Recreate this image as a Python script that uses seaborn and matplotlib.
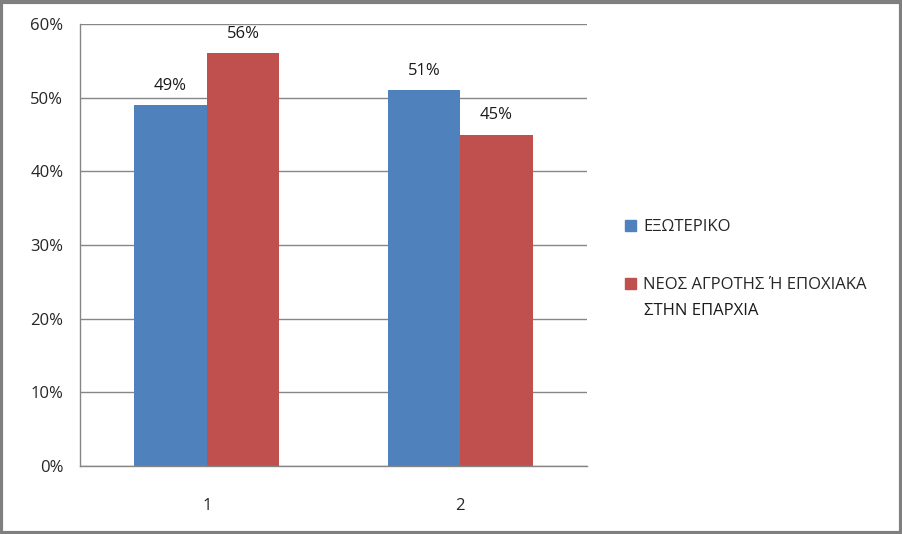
import pandas as pd
import seaborn as sns
import matplotlib.pyplot as plt
from matplotlib.patches import Rectangle
from matplotlib.ticker import FixedLocator, FuncFormatter

# data
categories = ["1", "2"]
series_names = ["ΕΞΩΤΕΡΙΚΟ", "ΝΕΟΣ ΑΓΡΟΤΗΣ Ή ΕΠΟΧΙΑΚΑ"]
second_line = "ΣΤΗΝ ΕΠΑΡΧΙΑ"  # wrapped rest of the 2nd legend label
exoteriko = [49, 51]
neos_agrotis = [56, 45]

df = pd.DataFrame({
    "cat": categories * 2,
    "series": [series_names[0]] * 2 + [series_names[1]] * 2,
    "value": exoteriko + neos_agrotis,
})

sns.set_style("white")
plt.rcParams["font.family"] = ["Open Sans", "DejaVu Sans"]

fig = plt.figure(figsize=(9.03, 5.34), dpi=100)
ax = fig.add_axes([0.0886, 0.1273, 0.5614, 0.8277])

sns.barplot(data=df, x="cat", y="value", hue="series",
            palette=["#4F81BD", "#C0504D"], width=0.572,
            saturation=1, linewidth=0, ax=ax, legend=False)

for cont in ax.containers:
    ax.bar_label(cont, fmt="%.0f%%", padding=8, fontsize=12, color="#1a1a1a")

ax.set_ylim(0, 60)
ax.set_xlim(-0.5, 1.5)
ax.set_yticks(range(0, 61, 10))
ax.yaxis.set_major_formatter(FuncFormatter(lambda v, p: f"{v:.0f}%"))
ax.grid(axis="y", color="#868686", linewidth=1)
ax.set_axisbelow(True)
ax.set_xlabel("")
ax.set_ylabel("")

for s in ["top", "right"]:
    ax.spines[s].set_visible(False)
for s in ["left", "bottom"]:
    ax.spines[s].set_color("#868686")
    ax.spines[s].set_linewidth(1)

ax.tick_params(axis="y", length=6, color="#868686", labelsize=12, pad=6)
ax.tick_params(axis="x", which="major", length=0, labelsize=12, pad=23)
ax.xaxis.set_minor_locator(FixedLocator([-0.5, 0.5, 1.5]))
ax.tick_params(axis="x", which="minor", length=6, color="#868686")

handles = [Rectangle((0, 0), 1, 1, color=c) for c in ["#4F81BD", "#C0504D"]]
leg = fig.legend(handles, series_names, loc="upper left", bbox_to_anchor=(0.676, 0.618),
                 frameon=False, fontsize=12, handlelength=0.65, handleheight=0.65,
                 handletextpad=0.4, labelspacing=2.55)

# second line of the wrapped legend label, placed under the first line
fig.canvas.draw()
bb = leg.get_texts()[1].get_window_extent()
W, H = fig.canvas.get_width_height()
fig.text(bb.x0 / W, (bb.y0 - 26) / H, second_line, ha="left", va="bottom",
         fontsize=12, color="#1a1a1a")

# outer frame of the chart
fig.patches.append(Rectangle((0.0015, 0.002), 0.996, 0.995, transform=fig.transFigure,
                             fill=False, edgecolor="#7f7f7f", linewidth=3))

fig.savefig("out.png", dpi=100)
